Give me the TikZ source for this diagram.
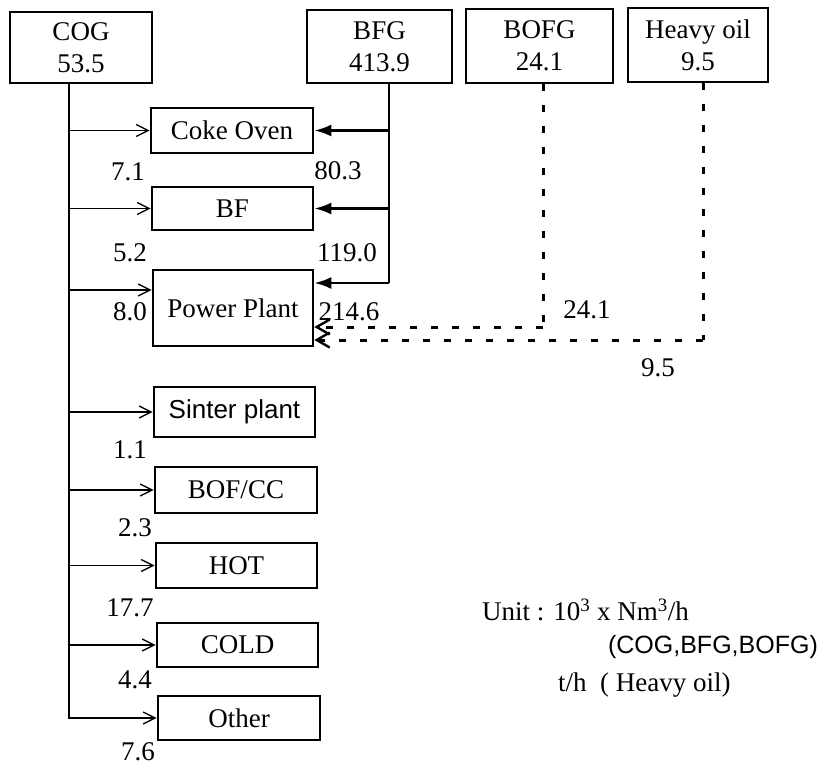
\documentclass[tikz,border=0pt]{standalone}
\usepackage{fontspec}
\setmainfont{Liberation Serif}
\newfontfamily\sansf{Liberation Sans}
\usetikzlibrary{arrows.meta,calc}
\begin{document}
\begin{tikzpicture}[x=1pt,y=-1pt,
  box/.style={draw,line width=2.6pt,inner sep=0pt,align=center,font=\fontsize{27}{32}\selectfont},
  lbl/.style={inner sep=0pt,font=\fontsize{27}{30}\selectfont},
  thinarr/.style={line width=1.3pt,-{Straight Barb[length=12pt,width=12pt,line width=1.4pt]}},
  boldarr/.style={line width=2.6pt,-{Latex[length=17pt,width=12pt]}},
  dasharr/.style={line width=3pt,dash pattern=on 7pt off 14pt,-{Straight Barb[length=13pt,width=15pt,line width=2.4pt]}},
  dline/.style={line width=3pt,dash pattern=on 7pt off 14pt}]
\useasboundingbox (0,0) rectangle (825,766);
% source boxes
\node[box,minimum width=142pt,minimum height=71pt] (COG) at (81,47.5) {COG\\53.5};
\node[box,minimum width=145pt,minimum height=73pt] (BFG) at (379.5,46.5) {BFG\\413.9};
\node[box,minimum width=147pt,minimum height=74pt] (BOFG) at (539.5,46) {BOFG\\24.1};
\node[box,minimum width=140pt,minimum height=74pt] (HO) at (698,45) {Heavy oil\\9.5};
% consumer boxes
\node[box,minimum width=162pt,minimum height=45pt] (CO) at (232,130.5) {Coke Oven};
\node[box,minimum width=161pt,minimum height=43pt] (BF) at (232.5,208.5) {BF};
\node[box,minimum width=160pt,minimum height=76pt] (PP) at (233,308) {Power Plant};
\node[box,minimum width=161pt,minimum height=50pt,font=\sansf\fontsize{26}{30}\selectfont] (SP) at (234.5,412) {Sinter plant};
\node[box,minimum width=162pt,minimum height=46pt] (BOF) at (236,490) {BOF/CC};
\node[box,minimum width=161pt,minimum height=45pt] (HOT) at (236.5,565.5) {HOT};
\node[box,minimum width=161pt,minimum height=44pt] (COLD) at (237.5,645) {COLD};
\node[box,minimum width=162pt,minimum height=44pt] (OTH) at (239,718) {Other};
% COG trunk
\coordinate (cogbot) at (69,719);
\coordinate (ppin) at (69,290);
\draw[line width=2.6pt] (COG.south -| cogbot) -- (cogbot);
\foreach \b in {CO,BF,SP,BOF,HOT,COLD,OTH}{
  \draw[thinarr] (cogbot |- \b.west) -- (\b.west);
}
\draw[thinarr] (ppin) -- (ppin -| PP.west);
% BFG trunk
\coordinate (bfgend) at (389,283);
\draw[line width=2.6pt] (BFG.south -| bfgend) -- (bfgend);
\draw[boldarr] (bfgend |- CO.east) -- (CO.east);
\draw[boldarr] (bfgend |- BF.east) -- (BF.east);
\draw[boldarr] (bfgend) -- (bfgend -| PP.east);
% BOFG dashed
\coordinate (bofgc) at (543,327);
\draw[dline] (BOFG.south -| bofgc) -- (bofgc);
\draw[dasharr] (bofgc) -- (bofgc -| PP.east);
% Heavy oil dashed
\coordinate (hoc) at (703,340);
\draw[dline] (HO.south -| hoc) -- (hoc);
\draw[dasharr] (hoc) -- (hoc -| PP.east);
% labels
\node[lbl] (l1) at (128,172) {7.1};
\node[lbl] (l2) at (338,171) {80.3};
\node[lbl] (l3) at (130,253) {5.2};
\node[lbl] (l4) at (347,253) {119.0};
\node[lbl] (l5) at (130,312) {8.0};
\node[lbl] (l6) at (349,312) {214.6};
\node[lbl] (l7) at (587,310) {24.1};
\node[lbl] (l8) at (658,368) {9.5};
\node[lbl] (l9) at (130,450) {1.1};
\node[lbl] (l10) at (135,528) {2.3};
\node[lbl] (l11) at (130,608) {17.7};
\node[lbl] (l12) at (135,680) {4.4};
\node[lbl] (l13) at (138,752) {7.6};
% unit text
\node[lbl,anchor=west] (u1) at (482,610) {Unit : 10\textsuperscript{3} x Nm\textsuperscript{3}/h};
\node[lbl,anchor=east,font=\sansf\fontsize{25}{28}\selectfont] (u2) at (818,647) {(COG,BFG,BOFG)};
\node[lbl,anchor=west] (u3) at (558,685) {t/h\ \ ( Heavy oil)};
\end{tikzpicture}
\end{document}
